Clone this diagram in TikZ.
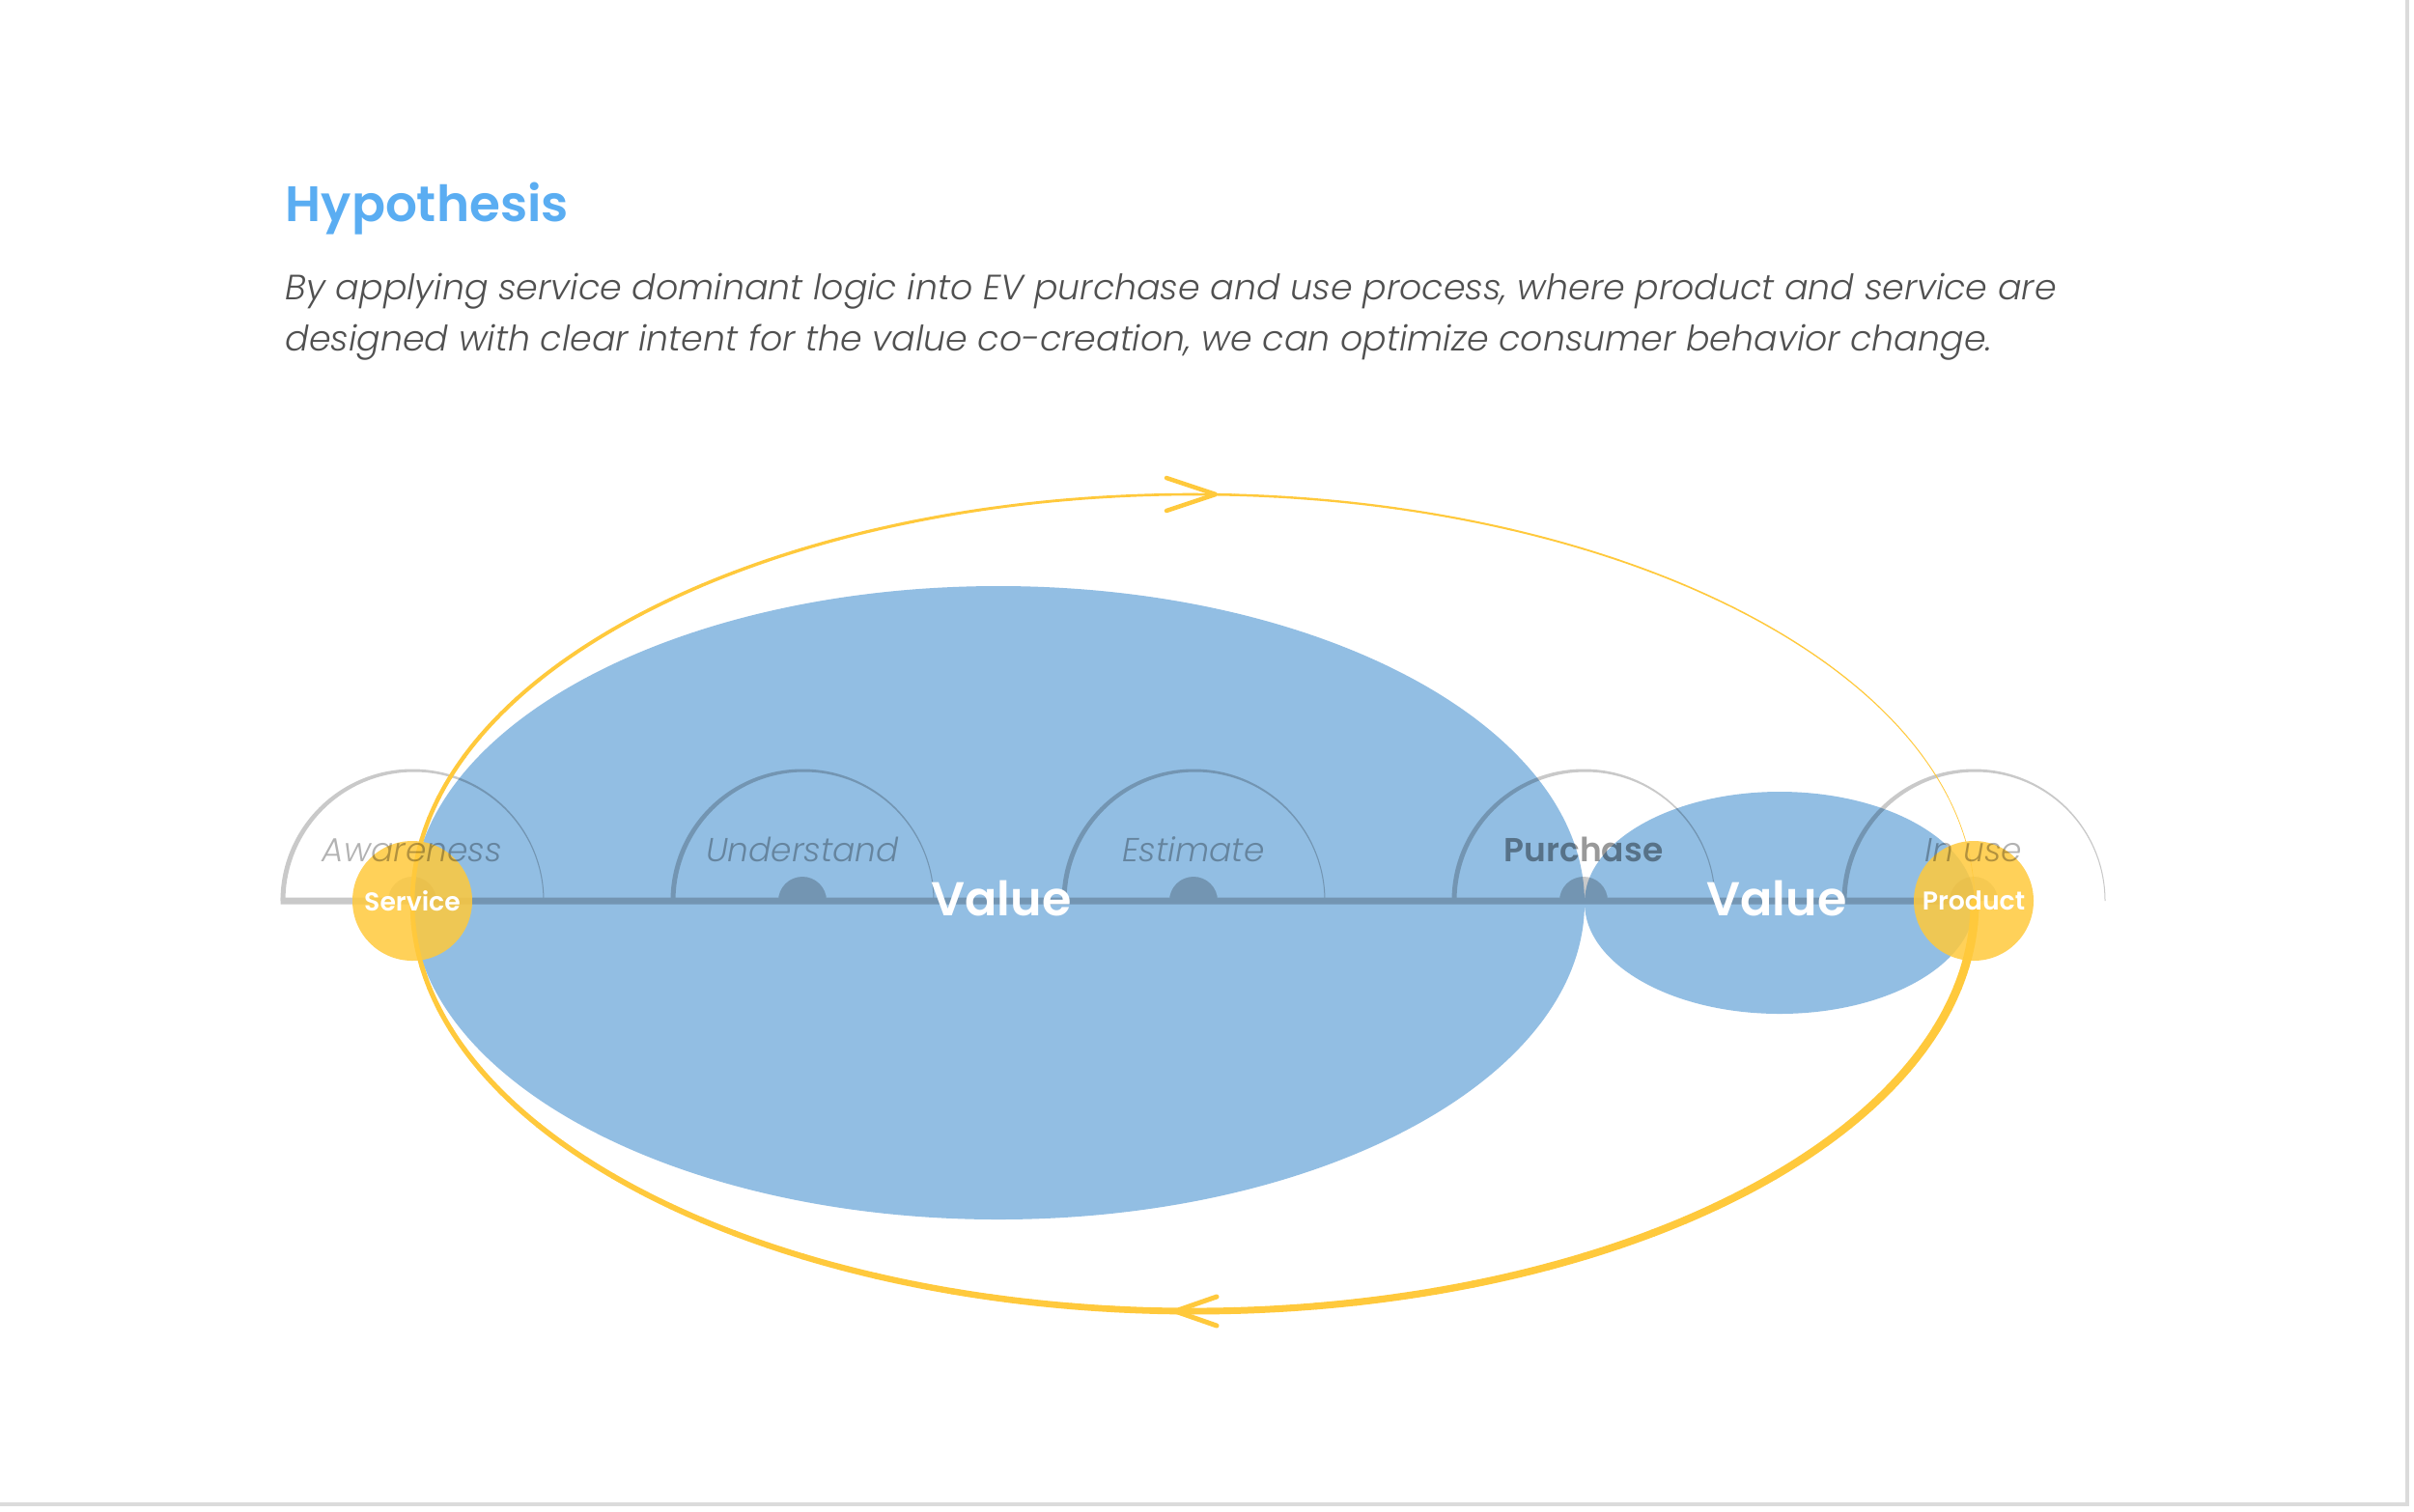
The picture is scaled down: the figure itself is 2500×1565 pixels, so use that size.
\documentclass[tikz,border=0pt]{standalone}
\usepackage{fontspec}
\setmainfont{Poppins}
\newfontfamily\popthin{Poppins Light}[ItalicFont={Poppins Light Italic}]
\newfontfamily\popbold{Poppins SemiBold}
\usetikzlibrary{positioning}
\definecolor{hypblue}{HTML}{5AADF2}
\definecolor{textgray}{HTML}{505050}
\definecolor{valblue}{HTML}{92BEE3}
\definecolor{sunny}{HTML}{FFC93C}

\begin{document}
\begin{tikzpicture}[x=0.1mm,y=-0.1mm,
  stagelbl/.style={anchor=base,inner sep=0pt,text=black,text opacity=0.3,
    font=\popthin\itshape\fontsize{9.8}{12}\selectfont},
  stagebold/.style={anchor=base,inner sep=0pt,text=black,text opacity=0.4,
    font=\popbold\fontsize{9.8}{12}\selectfont},
  hub/.style={circle,minimum size=12.4mm,inner sep=0pt,fill=sunny,fill opacity=0.85,
    text=white,text opacity=1,font=\popbold\fontsize{7.6}{9}\selectfont},
  valuelbl/.style={anchor=base,inner sep=0pt,text=white,
    font=\popbold\fontsize{14}{16}\selectfont}]
  \useasboundingbox (0,0) rectangle (2500,1565);
  \fill[white] (0,0) rectangle (2500,1565);
  \draw[black!14,line width=0.4mm] (2493,0) -- (2493,1558) -- (0,1558);

  \node[anchor=base west,inner sep=0pt,text=hypblue,font=\popbold\fontsize{14.7}{18}\selectfont]
    (title) at (295,229) {Hypothesis};
  \node[anchor=base west,inner sep=0pt,text=textgray,font=\popthin\itshape\fontsize{10.35}{12}\selectfont]
    (claimA) at (295,310) {By applying service dominant logic into EV purchase and use process, where product and service are};
  \node[anchor=base west,inner sep=0pt,text=textgray,font=\popthin\itshape\fontsize{10.35}{12}\selectfont]
    (claimB) at (295,363) {designed with clear intent for the value co-creation, we can optimize consumer behavior change.};

  \foreach \i/\cx in {0/427,1/831,2/1236,3/1640,4/2044}
    \coordinate (s\i) at (\cx,933);
  \coordinate (loopc) at (1236,935);

  \fill[valblue] (1034,935) ellipse [x radius=607,y radius=328];
  \fill[valblue] (1843,935) ellipse [x radius=202,y radius=115];

  \begin{scope}[transparency group,opacity=0.21]
    \foreach \cx in {427,831,1236,1640,2044}{
      \fill ({\cx-136.5},933) arc[start angle=180,end angle=360,radius=136.5]
        -- ({\cx+135.5},933) arc[start angle=360,end angle=180,radius=133.5] -- cycle;
      \fill ({\cx+25},933) arc[start angle=0,end angle=-180,radius=25] -- cycle;
    }
    \draw[line width=0.7mm] ([xshift=-13.65mm]s0) -- (s4);
  \end{scope}

  \foreach \a in {0,3,...,357}
    \draw[sunny,line cap=round,line width={(9-8.6*\a/360)*0.1mm}]
      (loopc) ++(\a:809 and 423) arc[start angle=\a,end angle=\a+3,x radius=809,y radius=423];
  \coordinate (toptip) at (1259,512);
  \coordinate (bottip) at (1217,1358);
  \draw[sunny,line width=0.45mm,line cap=round,line join=round]
    (toptip) ++(-51,-17) -- (toptip) -- ++(-51,17);
  \draw[sunny,line width=0.5mm,line cap=round,line join=round]
    (bottip) ++(43,-15) -- (bottip) -- ++(43,15);

  \node[hub] (service) at (s0) {Service};
  \node[hub] (product) at (s4) {Product};

  \foreach \i/\txt in {0/Awareness,1/Understand,2/Estimate,4/In use}
    \node[stagelbl] (lbl\i) at ([yshift=4.1mm]s\i) {\txt};
  \node[stagebold] (lbl3) at ([yshift=4.1mm]s3) {Purchase};

  \node[valuelbl] (valueA) at (1037,948) {Value};
  \node[valuelbl] (valueB) at (1840,948) {Value};
\end{tikzpicture}
\end{document}
